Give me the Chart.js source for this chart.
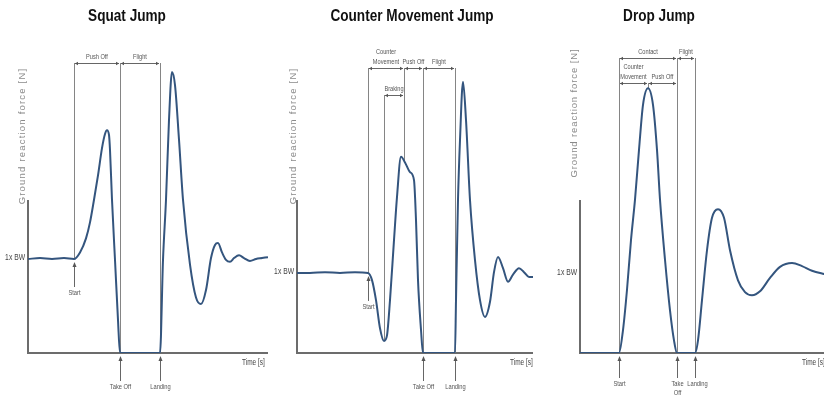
<!DOCTYPE html>
<html>
<head>
<meta charset="utf-8">
<script src="https://cdn.jsdelivr.net/npm/chart.js@4.4.1/dist/chart.umd.min.js"></script>
<style>
  html, body { margin: 0; padding: 0; background: #fff; overflow: hidden; width: 824px; height: 397px; }
  .panel { position: absolute; top: 0; height: 397px; }
  canvas { display: block; }
</style>
</head>
<body>
<div class="panel" style="left:0;width:275px"><canvas id="sj" width="275" height="397"></canvas></div>
<div class="panel" style="left:265px;width:285px"><canvas id="cmj" width="285" height="397"></canvas></div>
<div class="panel" style="left:550px;width:320px"><canvas id="dj" width="320" height="397"></canvas></div>

<script>
// ---- data: time [s] and ground reaction force [x BW] ----
const SJ_TIME  = [0,0.12,0.24,0.36,0.46,0.52,0.58,0.62,0.66,0.70,0.74,0.77,0.79,0.81,0.82,0.84,0.87,0.90,0.92,1.12,
                  1.32,1.35,1.38,1.41,1.44,1.47,1.51,1.55,1.62,1.68,1.73,1.78,1.83,1.87,1.90,1.94,1.98,2.02,2.06,2.11,
                  2.16,2.22,2.28,2.34,2.40];
const SJ_FORCE = [1.00,1.01,1.00,1.01,1.00,1.07,1.22,1.39,1.63,1.89,2.18,2.33,2.37,2.32,2.16,1.63,0.99,0.35,0,0,
                  0,0.99,1.63,2.48,2.99,2.85,2.27,1.63,0.94,0.59,0.52,0.67,1.01,1.15,1.17,1.07,0.99,0.97,1.01,1.04,
                  1.01,0.98,1.00,1.01,1.02];
const SJ_PHASES = [[0.46, 0.92, 'Push Off'], [0.92, 1.32, 'Flight']];
const SJ_MARKS  = [[0.46, 'Start'], [0.92, 'Take Off'], [1.32, 'Landing']];

const CMJ_TIME  = [0,0.13,0.28,0.43,0.58,0.71,0.75,0.79,0.83,0.87,0.90,0.93,0.97,1.00,1.04,1.08,1.13,1.17,1.19,1.21,
                   1.24,1.26,1.43,1.58,1.59,1.61,1.63,1.66,1.69,1.73,1.78,1.83,1.88,1.93,1.97,2.01,2.06,2.11,2.16,2.22,
                   2.27,2.32,2.36];
const CMJ_FORCE = [1.00,1.00,1.01,1.00,1.01,1.00,0.91,0.66,0.31,0.15,0.22,0.66,1.41,1.95,2.45,2.38,2.26,2.16,1.66,0.91,
                   0.29,0,0,0,0.66,1.91,2.66,3.39,2.91,1.91,1.16,0.66,0.45,0.64,1.01,1.20,1.06,0.89,0.98,1.06,
                   1.01,0.95,0.95];
const CMJ_PHASES    = [[0.71, 1.07, 'Counter|Movement'], [1.07, 1.26, 'Push Off'], [1.26, 1.58, 'Flight']];
const CMJ_SUBPHASES = [[0.87, 1.07, 'Braking']];
const CMJ_MARKS     = [[0.71, 'Start'], [1.26, 'Take Off'], [1.58, 'Landing']];

const DJ_TIME  = [0,0.20,0.39,0.43,0.47,0.51,0.55,0.59,0.63,0.68,0.73,0.77,0.80,0.85,0.90,0.94,0.97,1.06,1.15,1.18,
                  1.22,1.27,1.32,1.38,1.44,1.50,1.58,1.65,1.72,1.80,1.90,2.00,2.12,2.22,2.32,2.44,2.55,2.70];
const DJ_FORCE = [0,0,0,0.29,0.80,1.43,1.94,2.57,3.14,3.35,3.14,2.57,1.94,1.18,0.54,0.16,0,0,0,0.16,
                  0.67,1.30,1.71,1.82,1.71,1.30,0.92,0.77,0.73,0.78,0.95,1.09,1.14,1.10,1.04,1.00,0.97,0.96];
const DJ_PHASES    = [[0.39, 0.97, 'Contact'], [0.97, 1.15, 'Flight']];
const DJ_SUBPHASES = [[0.39, 0.68, 'Counter|Movement'], [0.68, 0.97, 'Push Off']];
const DJ_MARKS     = [[0.39, 'Start'], [0.97, 'Take|Off'], [1.15, 'Landing']];

const CURVE = '#34557e';
const AXIS  = '#6c6c6c';
const GUIDE = '#858585';
const INK   = '#444';
const SANS  = '"Liberation Sans", Arial, sans-serif';

// linear lookup of the force curve at time t
function forceAt(chart, t) {
  const d = chart.data.datasets[0].data;
  for (let i = 0; i < d.length - 1; i++) {
    if (t >= d[i].x && t <= d[i + 1].x) {
      const k = (t - d[i].x) / (d[i + 1].x - d[i].x || 1);
      return d[i].y + (d[i + 1].y - d[i].y) * k;
    }
  }
  return d[d.length - 1].y;
}

// phase boundaries -> guide lines (top = highest bracket row using it)
function boundaries(cfg) {
  const out = {};
  cfg.rows.forEach(row => row.phases.forEach(([t0, t1]) => {
    [t0, t1].forEach(t => {
      if (out[t] === undefined || row.y < out[t]) out[t] = row.y;
    });
  }));
  return Object.keys(out).map(t => ({ t: +t, top: out[t] }));
}

// condensed look: squeeze text horizontally around its anchor
function squeeze(ctx, s, x, y, sx) {
  ctx.save();
  ctx.translate(x, y);
  ctx.scale(sx, 1);
  ctx.fillText(s, 0, 0);
  ctx.restore();
}

function hArrow(ctx, xa, xb, y) {
  ctx.beginPath();
  ctx.moveTo(xa, y); ctx.lineTo(xb, y);
  ctx.stroke();
  ctx.beginPath();
  ctx.moveTo(xa, y); ctx.lineTo(xa + 3, y - 1.8); ctx.lineTo(xa + 3, y + 1.8); ctx.closePath();
  ctx.moveTo(xb, y); ctx.lineTo(xb - 3, y - 1.8); ctx.lineTo(xb - 3, y + 1.8); ctx.closePath();
  ctx.fill();
}

function phaseLayer(cfg) {
  return {
    id: 'phaseLayer',
    beforeDatasetsDraw(chart) {
      const { ctx, chartArea: a, scales: { x, y } } = chart;
      ctx.save();
      // axes
      ctx.strokeStyle = AXIS;
      ctx.lineWidth = 2;
      ctx.beginPath();
      ctx.moveTo(a.left, cfg.axisTop);
      ctx.lineTo(a.left, a.bottom);
      ctx.lineTo(a.right, a.bottom);
      ctx.stroke();
      // phase guide lines, down to the curve
      ctx.strokeStyle = GUIDE;
      ctx.lineWidth = 1;
      boundaries(cfg).forEach(b => {
        const px = Math.round(x.getPixelForValue(b.t)) + 0.5;
        ctx.beginPath();
        ctx.moveTo(px, b.top);
        ctx.lineTo(px, y.getPixelForValue(forceAt(chart, b.t)));
        ctx.stroke();
      });
      ctx.restore();
    },
    afterDatasetsDraw(chart) {
      const { ctx, chartArea: a, scales: { x, y } } = chart;
      ctx.save();
      ctx.textBaseline = 'middle';

      // title
      ctx.fillStyle = '#111';
      ctx.textAlign = 'center';
      ctx.font = 'bold 17px ' + SANS;
      squeeze(ctx, cfg.title, x.getPixelForValue(cfg.titleT), 16, 0.8);

      // y axis title
      ctx.save();
      ctx.translate(cfg.yTitle[0], cfg.yTitle[1]);
      ctx.rotate(-Math.PI / 2);
      ctx.fillStyle = '#8a8a8a';
      ctx.font = '9.5px ' + SANS;
      ctx.letterSpacing = cfg.yTitle[2] + 'px';
      ctx.fillText('Ground reaction force [N]', 0, 0);
      ctx.restore();

      // 1x BW and time label
      ctx.fillStyle = INK;
      ctx.font = '9px ' + SANS;
      ctx.textAlign = 'right';
      squeeze(ctx, '1x BW', a.left - 3, y.getPixelForValue(1) - 1, 0.75);
      ctx.textAlign = 'left';
      squeeze(ctx, 'Time [s]', x.getPixelForValue(cfg.timeT), a.bottom + 10, 0.72);

      // phase brackets
      ctx.strokeStyle = '#666';
      ctx.fillStyle = '#555';
      ctx.lineWidth = 1;
      ctx.font = '7.5px ' + SANS;
      ctx.textAlign = 'center';
      cfg.rows.forEach(row => row.phases.forEach(([t0, t1, label]) => {
        const p0 = x.getPixelForValue(t0), p1 = x.getPixelForValue(t1);
        hArrow(ctx, p0 + 1, p1 - 1, row.y + 0.5);
        const lines = label.split('|');
        lines.forEach((s, i) => squeeze(ctx, s, (p0 + p1) / 2, row.y - 6 - (lines.length - 1 - i) * 10, 0.75));
      }));

      // event arrows
      ctx.font = '8px ' + SANS;
      cfg.marks.forEach(([t, label]) => {
        const px = Math.round(x.getPixelForValue(t)) + 0.5;
        const tip = y.getPixelForValue(forceAt(chart, t)) + 3;
        const tail = tip + cfg.arrowLen;
        ctx.beginPath();
        ctx.moveTo(px, tip + 4); ctx.lineTo(px, tail);
        ctx.stroke();
        ctx.beginPath();
        ctx.moveTo(px, tip); ctx.lineTo(px - 2, tip + 5); ctx.lineTo(px + 2, tip + 5); ctx.closePath();
        ctx.fill();
        const dx = label === 'Landing' ? cfg.landingDx : 0;
        label.split('|').forEach((s, i) => squeeze(ctx, s, px + dx, tail + 6 + i * 9, 0.72));
      });
      ctx.restore();
    }
  };
}

function makeChart(id, time, force, xMax, yMax, pad, cfg) {
  return new Chart(document.getElementById(id), {
    type: 'line',
    data: {
      datasets: [{
        data: time.map((t, i) => ({ x: t, y: force[i] })),
        borderColor: CURVE,
        borderWidth: 2,
        pointRadius: 0,
        cubicInterpolationMode: 'monotone',
        fill: false,
      }],
    },
    options: {
      responsive: false,
      animation: false,
      layout: { padding: pad },
      scales: {
        x: { type: 'linear', min: 0, max: xMax, display: false },
        y: { min: 0, max: yMax, display: false },
      },
      plugins: { legend: { display: false }, tooltip: { enabled: false } },
    },
    plugins: [phaseLayer(cfg)],
  });
}

makeChart('sj', SJ_TIME, SJ_FORCE, 2.40, 3.33,
  { left: 28, right: 7, top: 40, bottom: 44 },
  { title: 'Squat Jump', titleT: 0.99, yTitle: [22, 136, 1.2], axisTop: 200, timeT: 2.14, arrowLen: 25, landingDx: 0,
    rows: [{ y: 63, phases: SJ_PHASES }], marks: SJ_MARKS });

makeChart('cmj', CMJ_TIME, CMJ_FORCE, 2.36, 3.91,
  { left: 32, right: 17, top: 40, bottom: 44 },
  { title: 'Counter Movement Jump', titleT: 1.15, yTitle: [28, 136, 1.2], axisTop: 200, timeT: 2.13, arrowLen: 25, landingDx: 0,
    rows: [{ y: 68, phases: CMJ_PHASES }, { y: 95, phases: CMJ_SUBPHASES }], marks: CMJ_MARKS });

makeChart('dj', DJ_TIME, DJ_FORCE, 2.70, 3.96,
  { left: 30, right: 20, top: 40, bottom: 44 },
  { title: 'Drop Jump', titleT: 0.79, yTitle: [24, 113, 0.9], axisTop: 200, timeT: 2.22, arrowLen: 22, landingDx: 2,
    rows: [{ y: 58, phases: DJ_PHASES }, { y: 83, phases: DJ_SUBPHASES }], marks: DJ_MARKS });
</script>
</body>
</html>
